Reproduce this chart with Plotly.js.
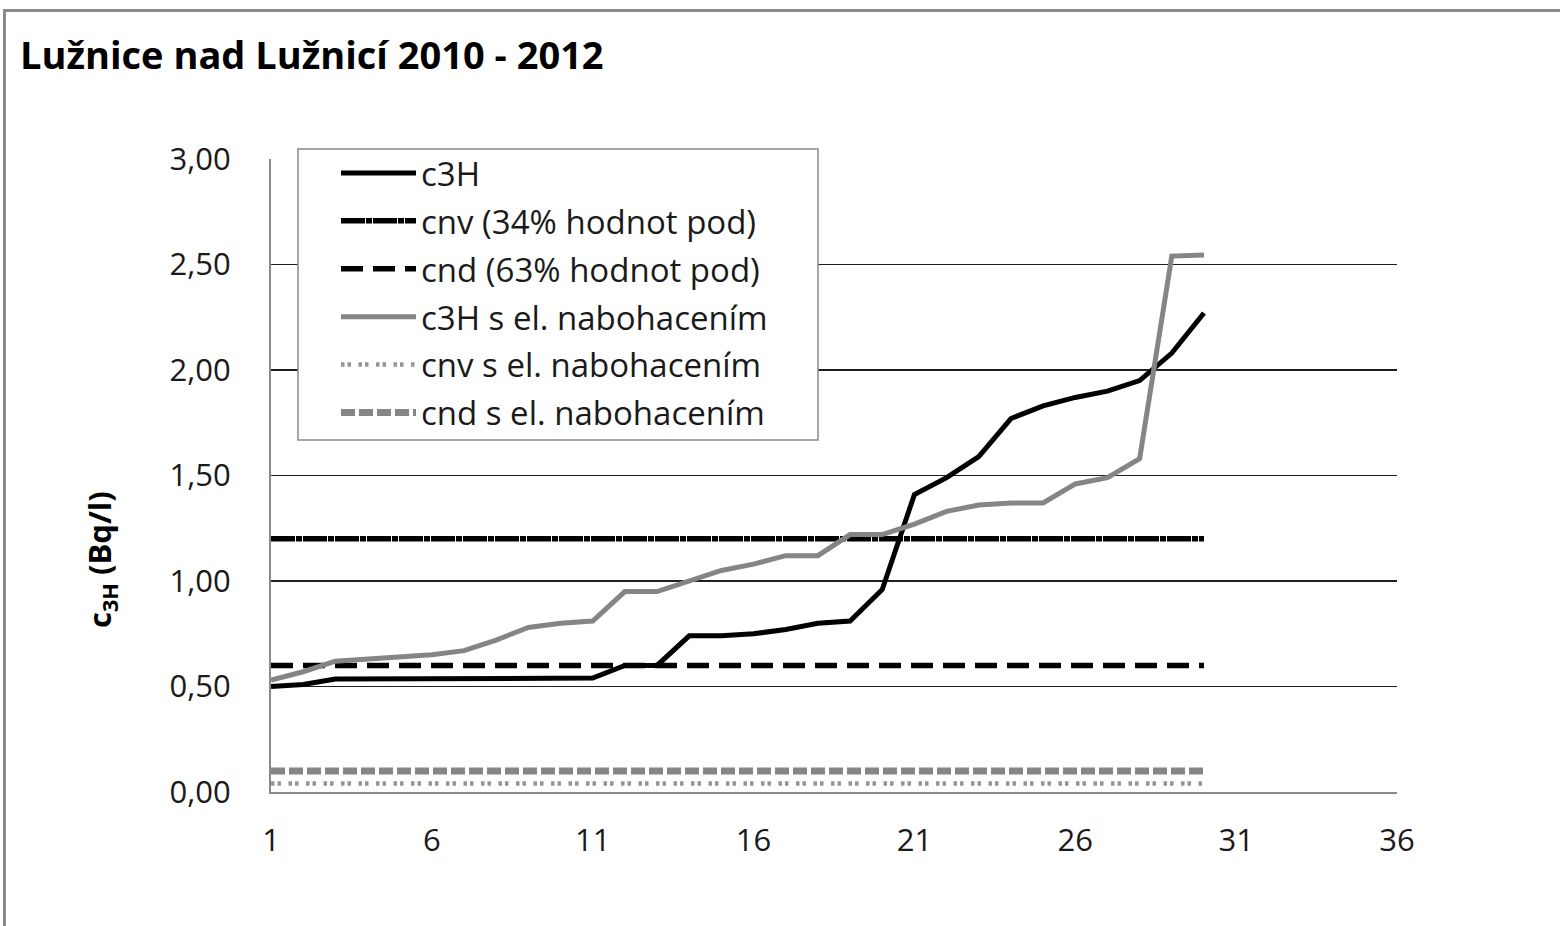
<!DOCTYPE html>
<html>
<head>
<meta charset="utf-8">
<script src="https://cdn.plot.ly/plotly-3.0.1.min.js"></script>
<style>
  html, body { margin: 0; padding: 0; background: #fff; }
  #wrap { position: relative; width: 1560px; height: 926px; overflow: hidden; }
  #chart { position: absolute; left: 0; top: 0; width: 1560px; height: 926px; }
  #frame { position: absolute; left: 3px; top: 9px; width: 1600px; height: 1000px;
           border-top: 3px solid #8a8a8a; border-left: 3px solid #8a8a8a; pointer-events: none; }
</style>
</head>
<body>
<div id="wrap">
  <div id="chart"></div>
  <div id="frame"></div>
</div>
<script>
// Sample order (sorted measurements)
const order = [1,2,3,4,5,6,7,8,9,10,11,12,13,14,15,16,17,18,19,20,21,22,23,24,25,26,27,28,29,30];

// Tritium activity concentration, Bq/l
const c3H = [0.50,0.51,0.535,0.535,0.535,0.535,0.535,0.535,0.535,0.54,0.54,0.60,0.60,0.74,0.74,
             0.75,0.77,0.80,0.81,0.96,1.41,1.49,1.59,1.77,1.83,1.87,1.90,1.95,2.08,2.27];
const c3H_el = [0.53,0.57,0.62,0.63,0.64,0.65,0.67,0.72,0.78,0.80,0.81,0.95,0.95,1.00,1.05,
                1.08,1.12,1.12,1.22,1.22,1.27,1.33,1.36,1.37,1.37,1.46,1.49,1.58,2.54,2.545];

// Decision / detection limits (constant levels over the sample range)
const limitX = [1, 30];
const cnv = [1.20, 1.20];
const cnd = [0.60, 0.60];
const cnv_el = [0.04, 0.04];
const cnd_el = [0.10, 0.10];

const seriesNames = [
  'c3H',
  'cnv (34% hodnot pod)',
  'cnd (63% hodnot pod)',
  'c3H s el. nabohacením',
  'cnv s el. nabohacením',
  'cnd s el. nabohacením'
];

const yTicks = [0, 0.5, 1, 1.5, 2, 2.5, 3];
const xTicks = [1, 6, 11, 16, 21, 26, 31, 36];

const FONT = 'Open Sans, DejaVu Sans, sans-serif';
const GRAY = '#858585';

// plot area in pixels
const PL = 271, PR = 1397, PT = 159, PB = 792;
const px2x = p => (p - PL) / (PR - PL);
const px2y = p => (PB - p) / (PB - PT);

const traces = [
  { x: order, y: c3H, name: seriesNames[0], legendgroup: 'a',
    mode: 'lines', line: { color: '#000', width: 5 } },
  { x: limitX, y: cnv, name: seriesNames[1], legendgroup: 'b',
    mode: 'lines', line: { color: '#000', width: 5.5, dash: '24px,1px,6px,1px' } },
  { x: limitX, y: cnd, name: seriesNames[2], legendgroup: 'c',
    mode: 'lines', line: { color: '#000', width: 5.5, dash: '22px,10px' } },
  { x: order, y: c3H_el, name: seriesNames[3], legendgroup: 'd',
    mode: 'lines', line: { color: GRAY, width: 5 } },
  { x: limitX, y: cnv_el, name: seriesNames[4], legendgroup: 'e',
    mode: 'lines', line: { color: '#959595', width: 4.5, dash: '3.5px,3px,3.5px,7.5px' } },
  { x: limitX, y: cnd_el, name: seriesNames[5], legendgroup: 'f',
    mode: 'lines', line: { color: GRAY, width: 7, dash: '14px,4px' } }
];

const layout = {
  width: 1560, height: 926,
  margin: { l: PL, r: 1560 - PR, t: PT, b: 926 - PB, pad: 0 },
  paper_bgcolor: '#fff', plot_bgcolor: '#fff',
  separators: ', ',
  font: { family: FONT, color: '#1a1a1a', size: 31 },
  title: {
    text: '<b>Lužnice nad Lužnicí 2010 - 2012</b>',
    font: { family: FONT, size: 38, color: '#000' },
    xref: 'container', yref: 'container',
    x: 20 / 1560, xanchor: 'left',
    y: 1 - 56 / 926, yanchor: 'middle'
  },
  xaxis: {
    range: [1, 36], tickvals: xTicks, ticktext: xTicks.map(String),
    showgrid: false, zeroline: false,
    showline: true, linecolor: '#8a8a8a', linewidth: 2,
    ticks: '', ticklabelstandoff: 20,
    tickfont: { family: FONT, size: 31, color: '#1a1a1a' }
  },
  yaxis: {
    range: [0, 3], tickvals: yTicks, tickformat: '.2f',
    showgrid: true, gridcolor: '#202020', gridwidth: 1.2,
    zeroline: false,
    showline: true, linecolor: '#8a8a8a', linewidth: 2,
    ticks: '', ticklabelstandoff: 32,
    tickfont: { family: FONT, size: 31, color: '#1a1a1a' }
  },
  annotations: [{
    text: '<b>c<sub>3H</sub> (Bq/l)</b>',
    xref: 'paper', yref: 'paper',
    x: px2x(101), y: px2y(560),
    xanchor: 'center', yanchor: 'middle',
    textangle: -90, showarrow: false,
    font: { family: FONT, size: 31, color: '#000' }
  }],
  // legend frame (the legend itself is drawn transparent on top)
  shapes: [{
    type: 'rect', xref: 'paper', yref: 'paper', layer: 'above',
    x0: px2x(298), x1: px2x(818), y0: px2y(440), y1: px2y(149),
    fillcolor: '#fff', line: { color: '#8a8a8a', width: 1.5 }
  }],
  showlegend: true,
  legend: {
    x: px2x(336), y: px2y(145),
    xanchor: 'left', yanchor: 'top',
    bgcolor: 'rgba(0,0,0,0)', borderwidth: 0,
    font: { family: FONT, size: 33, color: '#1a1a1a' },
    itemwidth: 75, tracegroupgap: 2,
    traceorder: 'grouped'
  }
};

Plotly.newPlot('chart', traces, layout, { staticPlot: true, displayModeBar: false });
</script>
</body>
</html>
